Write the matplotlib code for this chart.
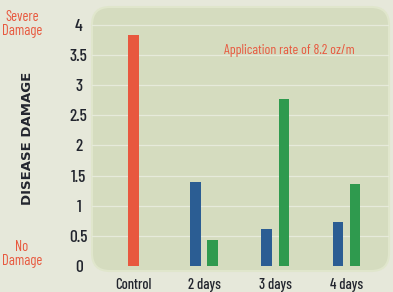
import matplotlib
matplotlib.use("Agg")
import matplotlib.pyplot as plt
from matplotlib.patches import FancyBboxPatch
import numpy as np

categories = ["Control", "2 days", "3 days", "4 days"]
control_value = [3.83]
blue_values = [1.40, 0.62, 0.73]
green_values = [0.43, 2.78, 1.36]
yticks = [0, 0.5, 1, 1.5, 2, 2.5, 3, 3.5, 4]
ytick_labels = ["0", "0.5", "1", "1.5", "2", "2.5", "3", "3.5", "4"]

BG = "#e6e8da"
PANEL = "#d5dcbf"
RED = "#e8583e"
BLUE = "#2b5d93"
GREEN = "#2f9a4e"
DARK = "#22252e"
FONT = ["Barlow Condensed", "DejaVu Sans"]

W, H = 393, 292
fig = plt.figure(figsize=(W / 100, H / 100), dpi=100, facecolor=BG)
left, right, top, bottom = 92, 389, 7, 271
ax = fig.add_axes([left / W, 1 - bottom / H, (right - left) / W, (bottom - top) / H])
ax.set_facecolor("none")
for s in ax.spines.values():
    s.set_visible(False)

aspect = ((right - left) / (bottom - top))
panel = FancyBboxPatch((0, 0), 1, 1, boxstyle="round,pad=0,rounding_size=0.06",
                       mutation_aspect=aspect, transform=ax.transAxes,
                       facecolor=PANEL, edgecolor="#e0e6cc", linewidth=1.5,
                       zorder=0, clip_on=False)
ax.add_patch(panel)

ax.set_xlim(-0.58, 3.6)
ax.set_ylim(-0.085, 4.3)

for y in yticks[1:]:
    ax.axhline(y, color="#e6eadb", linewidth=0.9, zorder=1)

bw = 0.15
off = 0.12
x = np.arange(len(categories))
ax.bar(x[:1], control_value, width=bw, color=RED, zorder=2)
ax.bar(x[1:] - off, blue_values, width=bw, color=BLUE, zorder=2)
ax.bar(x[1:] + off, green_values, width=bw, color=GREEN, zorder=2)

ax.set_xticks(x)
ax.set_xticklabels(categories, family=FONT, fontsize=10.5, color=DARK, fontweight="medium")
ax.set_yticks(yticks)
ax.set_yticklabels(ytick_labels, family=FONT, fontsize=12.5, color=DARK,
                   fontweight="medium", ha="center")
ax.tick_params(axis="both", length=0)
ax.tick_params(axis="y", pad=9.5)
ax.tick_params(axis="x", pad=5)

ax.text(2.2, 3.57, "Application rate of 8.2 oz/m", family=FONT, fontsize=10,
        color=RED, ha="center", va="center")

fig.text(28 / W, 1 - 138 / H, "DISEASE DAMAGE", rotation=90, ha="center", va="center",
         fontsize=9.5, fontweight="bold", color=DARK, family="DejaVu Sans")
fig.text(22 / W, 1 - 24 / H, "Severe\nDamage", ha="center", va="center",
         fontsize=10.5, color=RED, family=FONT, linespacing=1.0)
fig.text(22 / W, 1 - 254 / H, "No\nDamage", ha="center", va="center",
         fontsize=10.5, color=RED, family=FONT, linespacing=1.0)

fig.savefig("out.png", dpi=100, facecolor=BG)
